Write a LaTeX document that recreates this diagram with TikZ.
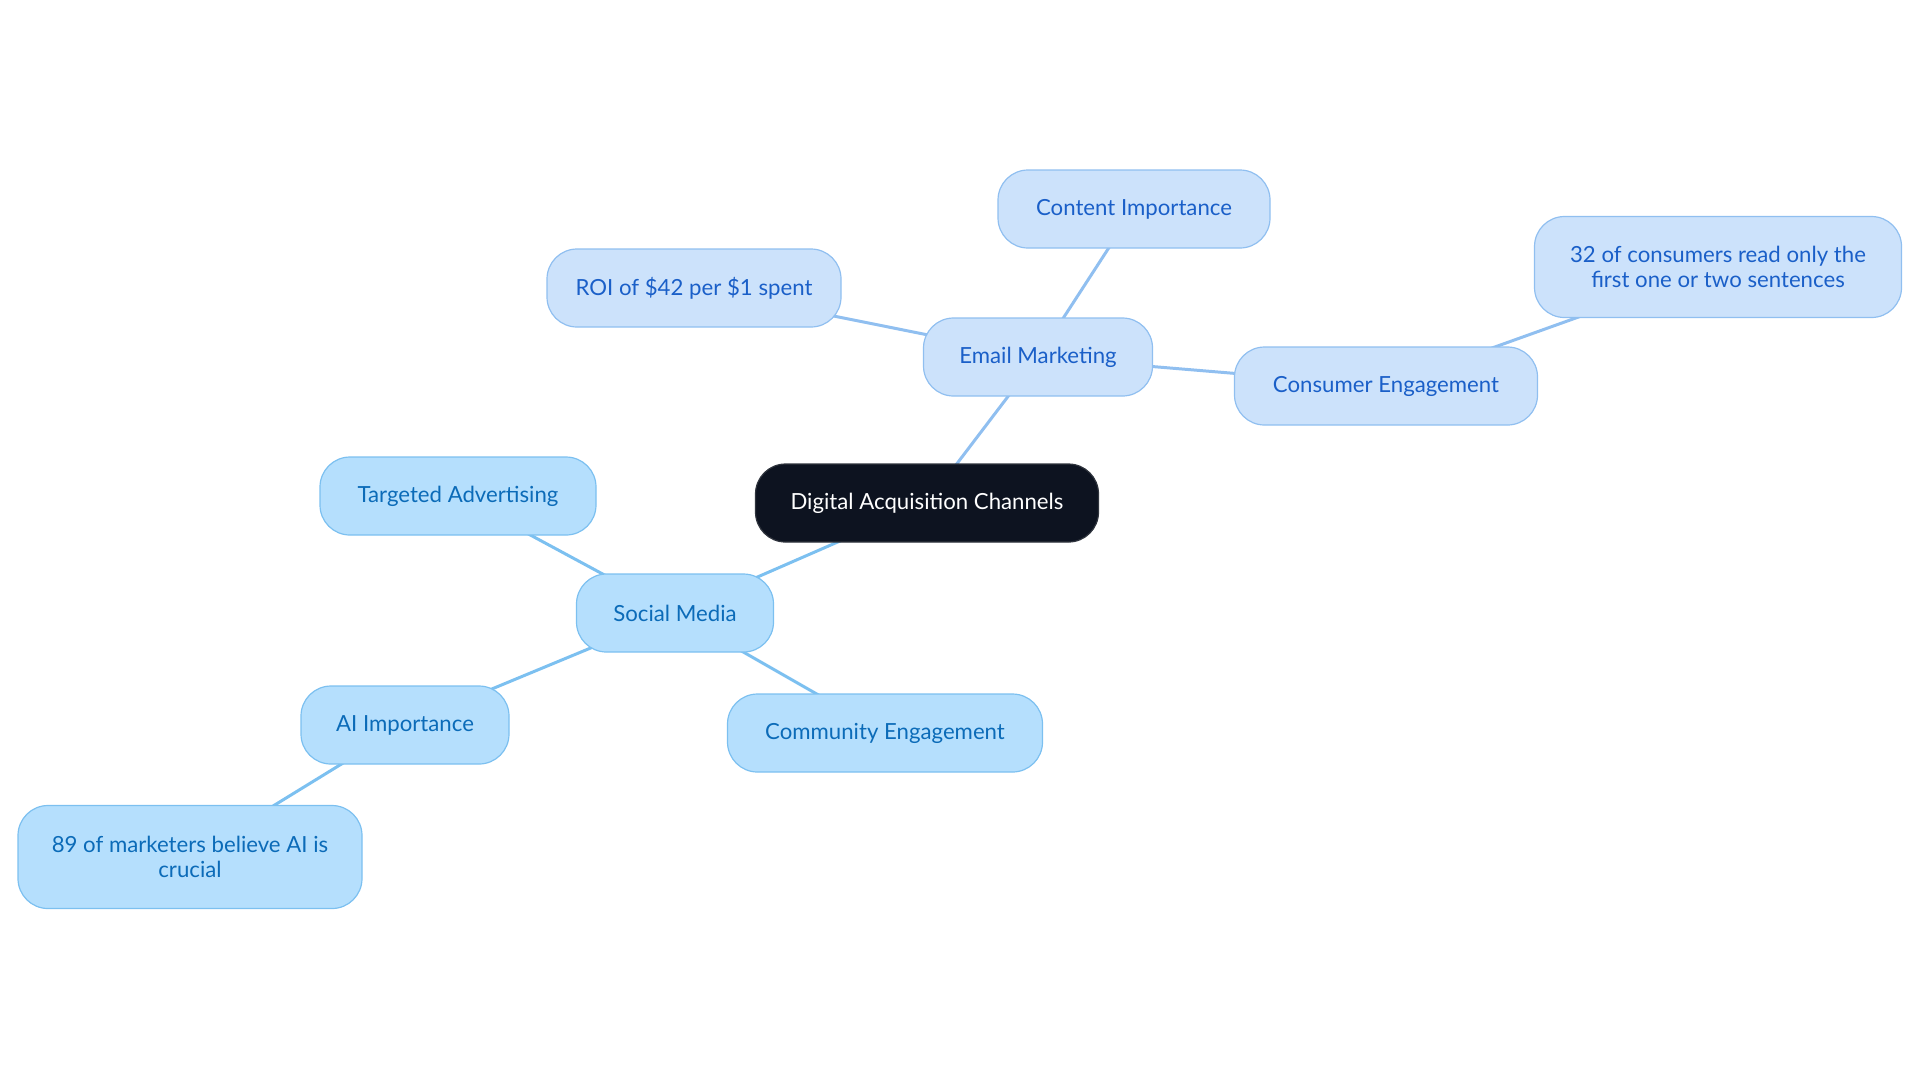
\documentclass[tikz,border=0pt]{standalone}
\usepackage{fontspec}
\setmainfont{Lato}
\usepackage{tikz}
\usetikzlibrary{positioning, backgrounds}

\definecolor{rootfill}{HTML}{0D1320}
\definecolor{mailfill}{HTML}{CCE2FB}
\definecolor{maildraw}{HTML}{90BFF0}
\definecolor{mailtext}{HTML}{1A5FC8}
\definecolor{socfill}{HTML}{B5DFFD}
\definecolor{socdraw}{HTML}{7CC0F0}
\definecolor{soctext}{HTML}{0B6BB8}

\begin{document}
\begin{tikzpicture}[
  x=0.5pt, y=-0.5pt,
  every node/.style={font=\fontsize{11.1}{12.4}\selectfont},
  pill/.style={draw, rounded corners=15pt, minimum height=39pt, align=center, inner sep=0pt, line width=0.6pt},
  rootbox/.style={pill, fill=rootfill, draw=rootfill!70!gray, text=white},
  mailbox/.style={pill, fill=mailfill, draw=maildraw, text=mailtext},
  socbox/.style={pill, fill=socfill, draw=socdraw, text=soctext},
  mailedge/.style={maildraw, line width=1.5pt},
  socedge/.style={socdraw, line width=1.5pt},
]
\useasboundingbox (0,0) rectangle (1920,1083);

% Root
\node[rootbox, minimum width=171.5pt] (root) at (927,503) {Digital Acquisition Channels};

% Email branch
\node[mailbox, minimum width=114.5pt] (email) at (1038,357) {Email Marketing};
\node[mailbox, minimum width=136pt] (content) at (1134,209) {Content Importance};
\node[mailbox, minimum width=147pt] (roi) at (694,288) {ROI of \$42 per \$1 spent};
\node[mailbox, minimum width=151.5pt] (consumer) at (1386,386) {Consumer Engagement};
\node[mailbox, minimum width=183.5pt, minimum height=50.5pt] (read) at (1718,267) {32 of consumers read only the\\first one or two sentences};

% Social branch
\node[socbox, minimum width=98.5pt] (social) at (675,613) {Social Media};
\node[socbox, minimum width=138pt] (targeted) at (458,496) {Targeted Advertising};
\node[socbox, minimum width=104pt] (ai) at (405,725) {AI Importance};
\node[socbox, minimum width=157.5pt] (community) at (885,733) {Community Engagement};
\node[socbox, minimum width=172pt, minimum height=51.5pt] (believe) at (190,857) {89 of marketers believe AI is\\crucial};

% Connectors
\begin{scope}[on background layer]
\draw[mailedge] (root.center) -- (email.center);
\draw[mailedge] (email.center) -- (content.center);
\draw[mailedge] (email.center) -- (roi.center);
\draw[mailedge] (email.center) -- (consumer.center);
\draw[mailedge] (consumer.center) -- (read.center);
\draw[socedge] (root.center) -- (social.center);
\draw[socedge] (social.center) -- (targeted.center);
\draw[socedge] (social.center) -- (ai.center);
\draw[socedge] (social.center) -- (community.center);
\draw[socedge] (ai.center) -- (believe.center);
\end{scope}

\end{tikzpicture}
\end{document}
